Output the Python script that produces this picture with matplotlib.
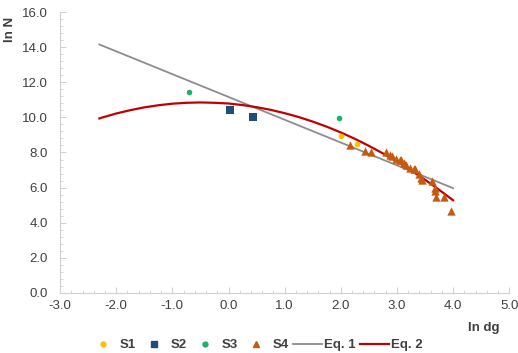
import matplotlib
matplotlib.use("Agg")
import matplotlib.pyplot as plt
from matplotlib.ticker import MultipleLocator, FormatStrFormatter
from matplotlib.lines import Line2D

# Data
s1_x = [2.01, 2.29]
s1_y = [8.92, 8.47]
s2_x = [0.02, 0.43]
s2_y = [10.40, 10.04]
s3_x = [-0.70, 1.96]
s3_y = [11.44, 9.98]
s4_x = [2.17, 2.44, 2.54, 2.81, 2.88, 2.91, 2.99, 3.05, 3.07, 3.12, 3.17, 3.23,
        3.31, 3.33, 3.40, 3.43, 3.45, 3.63, 3.67, 3.68, 3.70, 3.84, 3.97]
s4_y = [8.45, 8.09, 8.03, 8.00, 7.84, 7.78, 7.65, 7.60, 7.56, 7.43, 7.27, 7.14,
        7.05, 7.08, 6.80, 6.52, 6.42, 6.36, 5.95, 5.81, 5.44, 5.44, 4.68]
eq1_x = [-2.3, 4.0]
eq1_y = [14.15, 5.97]
eq2_x = [-2.30, -2.25, -2.0, -1.75, -1.5, -1.25, -1.0, -0.75, -0.5, -0.25, 0.0,
         0.25, 0.5, 0.75, 1.0, 1.25, 1.5, 1.75, 2.0, 2.25, 2.5, 2.75, 3.0,
         3.25, 3.5, 3.75, 4.0]
eq2_y = [9.94, 9.99, 10.22, 10.41, 10.57, 10.69, 10.78, 10.83, 10.85, 10.83, 10.79,
         10.70, 10.58, 10.43, 10.24, 10.02, 9.76, 9.47, 9.14, 8.78, 8.38, 7.95, 7.49,
         6.98, 6.45, 5.88, 5.28]

c_s1 = "#FFC000"
c_s2 = "#1F4E79"
c_s3 = "#1DB06A"
c_s4 = "#C55A11"
c_eq1 = "#8C8C8C"
c_eq2 = "#C00000"
txt = "#404040"

plt.rcParams['font.family'] = ['Liberation Sans', 'DejaVu Sans']

fig = plt.figure(figsize=(5.18, 3.53), dpi=100)
ax = fig.add_axes([0.116, 0.17, 0.867, 0.796])

ax.plot(eq1_x, eq1_y, color=c_eq1, lw=1.3, zorder=2)
ax.plot(eq2_x, eq2_y, color=c_eq2, lw=1.6, zorder=3)
ax.scatter(s1_x, s1_y, marker='o', s=16, color=c_s1, zorder=4, linewidths=0)
ax.scatter(s2_x, s2_y, marker='s', s=26, color=c_s2, zorder=4, linewidths=0)
ax.scatter(s3_x, s3_y, marker='o', s=16, color=c_s3, zorder=4, linewidths=0)
ax.scatter(s4_x, s4_y, marker='^', s=36, color=c_s4, zorder=4, linewidths=0)

ax.set_xlim(-3, 5)
ax.set_ylim(0, 16)
ax.xaxis.set_major_locator(MultipleLocator(1))
ax.xaxis.set_minor_locator(MultipleLocator(0.2))
ax.yaxis.set_major_locator(MultipleLocator(2))
ax.yaxis.set_minor_locator(MultipleLocator(0.4))
ax.xaxis.set_major_formatter(FormatStrFormatter('%.1f'))
ax.yaxis.set_major_formatter(FormatStrFormatter('%.1f'))

for s in ['top', 'right']:
    ax.spines[s].set_visible(False)
for s in ['left', 'bottom']:
    ax.spines[s].set_color('#D0D0D0')
    ax.spines[s].set_linewidth(0.8)

ax.tick_params(which='major', length=4, width=0.6, color='#C8C8C8',
               direction='in', labelsize=9.5, labelcolor=txt)
ax.tick_params(axis='y', which='major', pad=9)
ax.tick_params(axis='x', which='major', pad=5)
ax.tick_params(which='minor', length=2.5, width=0.5, color='#C8C8C8', direction='in')

fig.text(0.903, 0.062, "ln dg", fontsize=9.5, fontweight='bold', color=txt, ha='left')
fig.text(0.008, 0.918, "ln N", fontsize=9.5, fontweight='bold', color=txt,
         rotation=90, va='center')

handles = [
    Line2D([], [], marker='o', ls='', color=c_s1, markersize=3.5),
    Line2D([], [], marker='s', ls='', color=c_s2, markersize=4),
    Line2D([], [], marker='o', ls='', color=c_s3, markersize=3.5),
    Line2D([], [], marker='^', ls='', color=c_s4, markersize=4.5),
    Line2D([], [], color=c_eq1, lw=1.3),
    Line2D([], [], color=c_eq2, lw=1.6),
]
labels = ["S1", "S2", "S3", "S4", "Eq. 1", "Eq. 2"]
leg = fig.legend(handles, labels, loc='center', bbox_to_anchor=(0.493, 0.022),
                 ncol=6, frameon=False, fontsize=9.5, handlelength=2.2,
                 columnspacing=0.3, handletextpad=0.15, borderpad=0)
for t in leg.get_texts():
    t.set_fontweight('bold')
    t.set_color(txt)

fig.savefig("out.png", dpi=100)
